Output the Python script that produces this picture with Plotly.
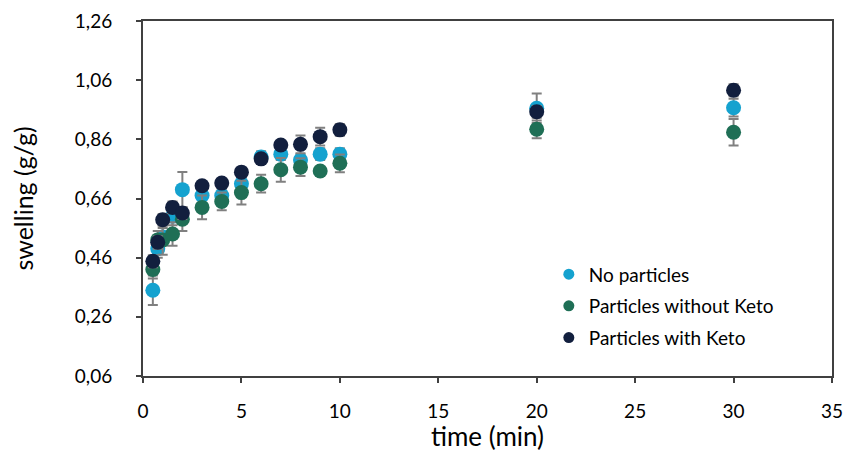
import plotly.graph_objects as go

time_min = [0.5, 0.75, 1, 1.5, 2, 3, 4, 5, 6, 7, 8, 9, 10, 20, 30]

no_particles = [0.35, 0.49, 0.53, 0.60, 0.69, 0.67, 0.67, 0.71, 0.80, 0.81, 0.79, 0.81, 0.81, 0.965, 0.967]
no_particles_err = [0.05, 0.03, 0.03, 0.03, 0.06, 0.03, 0.02, 0.02, 0.02, 0.02, 0.02, 0.02, 0.02, 0.05, 0.03]

without_keto = [0.42, 0.52, 0.52, 0.54, 0.59, 0.63, 0.65, 0.68, 0.71, 0.757, 0.766, 0.753, 0.779, 0.894, 0.884]
without_keto_err = [0.03, 0.03, 0.05, 0.04, 0.04, 0.04, 0.03, 0.04, 0.03, 0.04, 0.03, 0.01, 0.03, 0.03, 0.045]

with_keto = [0.448, 0.512, 0.588, 0.63, 0.611, 0.703, 0.712, 0.749, 0.794, 0.841, 0.843, 0.869, 0.892, 0.953, 1.026]
with_keto_err = [0.02, 0.02, 0.02, 0.02, 0.02, 0.01, 0.015, 0.01, 0.015, 0.01, 0.03, 0.03, 0.02, 0.02, 0.02]

series_names = ["No particles", "Particles without Keto", "Particles with Keto"]
series_values = [no_particles, without_keto, with_keto]
series_errors = [no_particles_err, without_keto_err, with_keto_err]
colors = ["#15A2CF", "#1F6F56", "#121F3E"]

fig = go.Figure()
for name, vals, errs, col in zip(series_names, series_values, series_errors, colors):
    fig.add_trace(go.Scatter(
        x=time_min, y=vals, mode="markers", name=name, showlegend=False,
        marker=dict(size=15, color=col),
        error_y=dict(type="data", array=errs, visible=True, color="#808080",
                     thickness=2, width=5),
    ))
for i, (name, col) in enumerate(zip(series_names, colors)):
    fig.add_trace(go.Scatter(
        x=[None], y=[None], mode="markers", name=name, legendgroup=f"g{i}",
        marker=dict(size=11, color=col),
    ))

axis_common = dict(
    showline=True, linecolor="#404040", linewidth=2, mirror=True,
    ticks="outside", ticklen=5, tickwidth=2, tickcolor="#404040",
    showgrid=False, zeroline=False, automargin=False,
    ticklabeloverflow="allow",
    tickfont=dict(family="Lato", size=19, color="#000000"),
)

fig.update_layout(
    width=843, height=452,
    margin=dict(l=143, r=11, t=21, b=76),
    paper_bgcolor="white", plot_bgcolor="white",
    separators=",.",
    font=dict(family="Lato", color="#000000"),
    xaxis=dict(range=[0, 35], dtick=5, tick0=0, ticklabelstandoff=12,
               title=dict(text="time (min)", font=dict(family="Lato", size=26), standoff=15),
               **axis_common),
    yaxis=dict(range=[0.06, 1.26], dtick=0.2, tick0=0.06, tickformat=".2f",
               ticklabelstandoff=20,
               title=dict(text="swelling (g/g)", font=dict(family="Lato", size=25), standoff=34),
               **axis_common),
    legend=dict(x=0.589, y=0.34, xanchor="left", yanchor="top",
                font=dict(family="Lato", size=19, color="#000000"),
                tracegroupgap=4, bgcolor="rgba(0,0,0,0)"),
)

fig.write_html("out.html", config={"displayModeBar": False},
               post_script="document.body.style.margin='0';document.body.style.overflow='hidden';")
